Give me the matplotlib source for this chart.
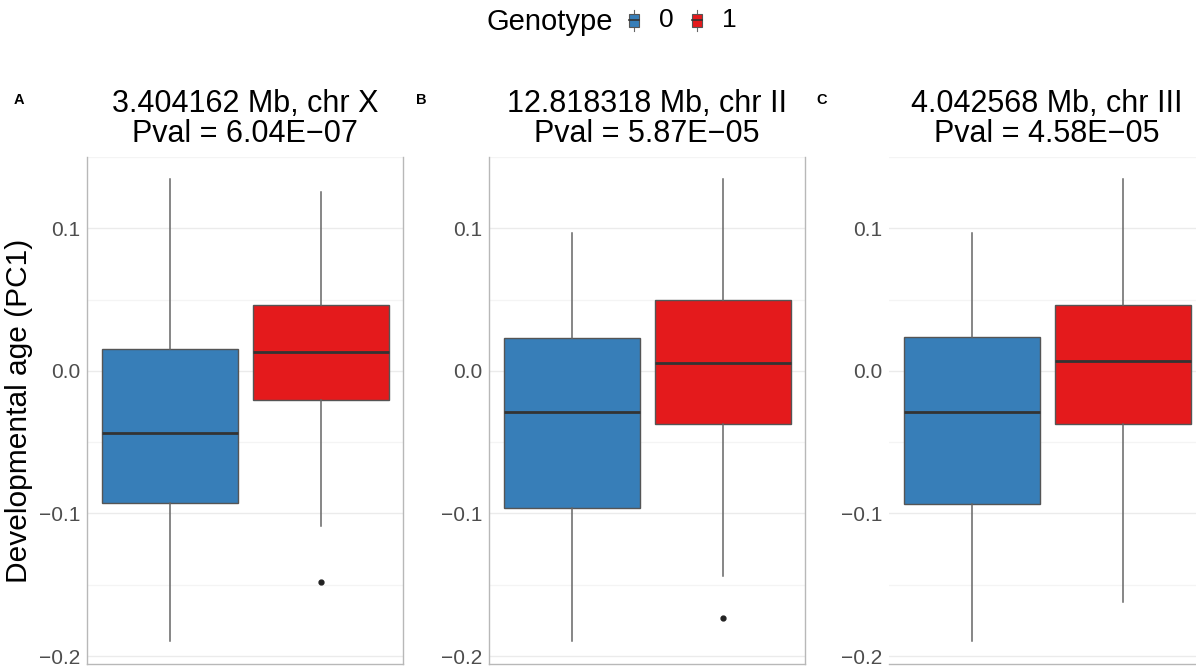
import matplotlib
matplotlib.use("Agg")
import matplotlib.pyplot as plt
from matplotlib.legend_handler import HandlerBase
from matplotlib.patches import Patch, Rectangle
from matplotlib.lines import Line2D
from matplotlib.ticker import MultipleLocator

plt.rcParams['font.family'] = ['Liberation Sans', 'DejaVu Sans']

# per-panel summary stats for genotype 0 and 1
titles = ["3.404162 Mb, chr X\nPval = 6.04E\u221207",
          "12.818318 Mb, chr II\nPval = 5.87E\u221205",
          "4.042568 Mb, chr III\nPval = 4.58E\u221205"]
panel_tags = ["A", "B", "C"]

lo_0  = [-0.1894, -0.1894, -0.1894]
q1_0  = [-0.0923, -0.0961, -0.0933]
med_0 = [-0.0435, -0.0288, -0.0288]
q3_0  = [0.0152, 0.0231, 0.0236]
hi_0  = [0.1344, 0.0966, 0.0966]

lo_1  = [-0.1087, -0.1438, -0.1618]
q1_1  = [-0.0201, -0.0374, -0.0374]
med_1 = [0.0135, 0.0054, 0.0070]
q3_1  = [0.0463, 0.0498, 0.0463]
hi_1  = [0.1257, 0.1344, 0.1344]
out_1 = [[-0.1478], [-0.1730], []]

genotypes = ["0", "1"]
colors = ["#377EB8", "#E41A1C"]

W, H = 1196, 667
fig = plt.figure(figsize=(W / 100, H / 100), dpi=100)

ax_left = [87, 489, 889]
ax_w, ax_top, ax_bot = 316, 157, 664
ylim = (-0.2056, 0.1501)

for i in range(3):
    ax = fig.add_axes([ax_left[i] / W, 1 - ax_bot / H, ax_w / W, (ax_bot - ax_top) / H])
    stats = [
        dict(whislo=lo_0[i], q1=q1_0[i], med=med_0[i], q3=q3_0[i], whishi=hi_0[i], fliers=[]),
        dict(whislo=lo_1[i], q1=q1_1[i], med=med_1[i], q3=q3_1[i], whishi=hi_1[i], fliers=out_1[i]),
    ]
    bp = ax.bxp(stats, positions=[0.715, 1.289], widths=0.516, patch_artist=True,
                showcaps=False,
                boxprops=dict(edgecolor="#555555", linewidth=1.0),
                medianprops=dict(color="#333333", linewidth=2.0),
                whiskerprops=dict(color="#666666", linewidth=1.1),
                flierprops=dict(marker="o", markersize=3.5, markerfacecolor="#222222",
                                markeredgecolor="#222222"))
    for patch, c in zip(bp["boxes"], colors):
        patch.set_facecolor(c)
    for m in bp["medians"]:
        m.set_solid_capstyle("butt")

    ax.set_xlim(0.4, 1.6)
    ax.set_ylim(*ylim)
    ax.yaxis.set_major_locator(MultipleLocator(0.1))
    ax.yaxis.set_minor_locator(MultipleLocator(0.05))
    ax.grid(True, which="major", axis="y", color="#ebebeb", linewidth=1.0)
    ax.grid(True, which="minor", axis="y", color="#f4f4f4", linewidth=0.9)
    ax.set_axisbelow(True)
    ax.set_xticks([])
    ax.tick_params(axis="y", which="both", length=0, labelsize=15,
                   labelcolor="#4d4d4d", pad=5)
    ax.yaxis.set_major_formatter(lambda v, p: f"{v:.1f}".replace("-", "\u2212"))

    for s in ["left", "right", "bottom"]:
        ax.spines[s].set_color("#b8b8b8")
        ax.spines[s].set_linewidth(1.0)
    ax.spines["top"].set_visible(False)
    if i == 2:
        ax.spines["left"].set_visible(False)

    ax.set_title(titles[i], fontsize=22, linespacing=1.0, pad=11)
    fig.text((ax_left[i] - 73) / W, 1 - 100 / H, panel_tags[i], fontsize=10.5,
             fontweight="bold", ha="left", va="center")
    if i == 0:
        ax.set_ylabel("Developmental age (PC1)", fontsize=21.5)
        ax.yaxis.set_label_coords(-54 / ax_w, 0.5)


class BoxKey(HandlerBase):
    # small boxplot glyph for legend keys
    def create_artists(self, legend, orig, xd, yd, width, height, fontsize, trans):
        fc = orig.get_facecolor()
        cx = xd + width / 2
        bw, bh = width, height * 0.8
        rect = Rectangle((cx - bw / 2, yd + (height - bh) / 2), bw, bh,
                         facecolor=fc, edgecolor="#555555", linewidth=0.8, transform=trans)
        whisk = Line2D([cx, cx], [yd - height * 0.15, yd + height * 1.15],
                       color="#666666", linewidth=0.8, transform=trans)
        mid = Line2D([cx - bw / 2, cx + bw / 2], [yd + height / 2] * 2,
                     color="#333333", linewidth=1.2, transform=trans)
        return [whisk, rect, mid]


fig.text(487 / W, 1 - 22 / H, "Genotype", fontsize=21, ha="left", va="center")
handles = [Patch(facecolor=c) for c in colors]
fig.legend(handles, genotypes, loc="center left", ncol=2,
           bbox_to_anchor=(629 / W, 1 - 20 / H), frameon=False, fontsize=19,
           handler_map={Patch: BoxKey()}, borderpad=0, borderaxespad=0,
           handlelength=0.38, handleheight=0.55, handletextpad=0.75, columnspacing=0.7)

fig.savefig("out.png", dpi=100)
